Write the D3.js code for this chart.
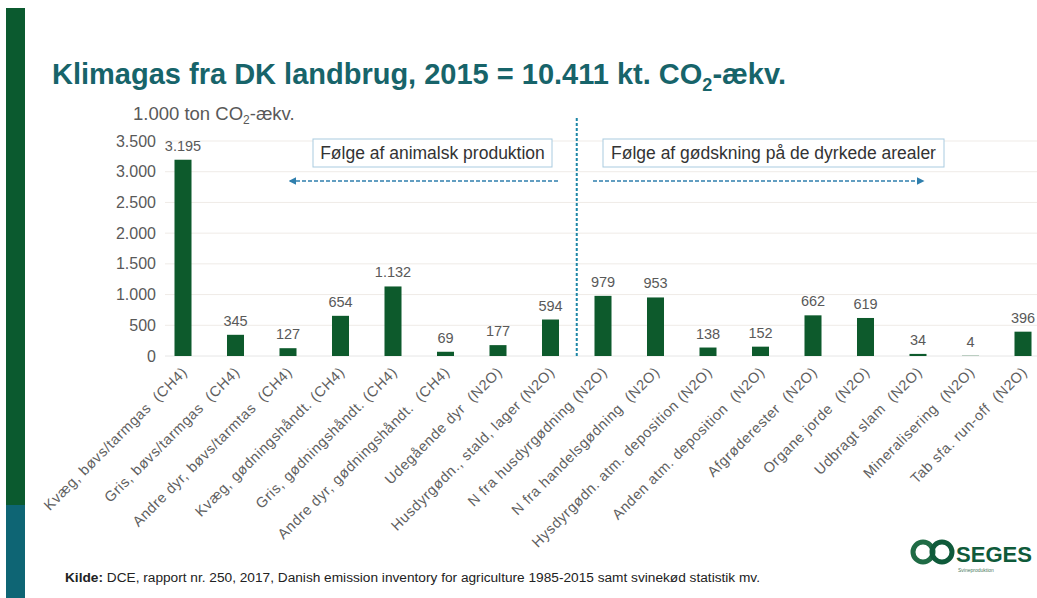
<!DOCTYPE html>
<html>
<head>
<meta charset="utf-8">
<script src="https://cdn.jsdelivr.net/npm/d3@7"></script>
<style>
  body { margin: 0; background: #fff; }
  text { font-family: "Liberation Sans", Arial, sans-serif; }
</style>
</head>
<body>
<div id="chart"></div>
<script>
// data
let categories = [
  "Kvæg, bøvs/tarmgas  (CH4)", "Gris, bøvs/tarmgas  (CH4)", "Andre dyr, bøvs/tarmtas  (CH4)",
  "Kvæg, gødningshåndt. (CH4)", "Gris, gødningshåndt. (CH4)", "Andre dyr, gødningshåndt.  (CH4)",
  "Udegående dyr  (N2O)", "Husdyrgødn., stald, lager (N2O)", "N fra husdyrgødning (N2O)",
  "N fra handelsgødning  (N2O)", "Hysdyrgødn. atm. deposition (N2O)", "Anden atm. deposition  (N2O)",
  "Afgrøderester  (N2O)", "Organe jorde  (N2O)", "Udbragt slam  (N2O)",
  "Mineralisering  (N2O)", "Tab sfa. run-off  (N2O)"
];
let values = [3195, 345, 127, 654, 1132, 69, 177, 594, 979, 953, 138, 152, 662, 619, 34, 4, 396];
let yTicks = [0, 500, 1000, 1500, 2000, 2500, 3000, 3500];
let groupLabels = ["Følge af animalsk produktion", "Følge af gødskning på de dyrkede arealer"];

let W = 1037, H = 598;
let fmt = d3.format(",d");
let dk = v => fmt(v).replace(/,/g, "."); // danish thousands separator

let svg = d3.select("#chart").append("svg")
    .attr("width", W).attr("height", H);

// left colour band
svg.append("rect").attr("x", 6).attr("y", 8).attr("width", 19).attr("height", 497).attr("fill", "#0b5a2f");
svg.append("rect").attr("x", 6).attr("y", 505).attr("width", 19).attr("height", 93).attr("fill", "#0e6574");

// title
let title = svg.append("text")
    .attr("x", 52).attr("y", 84)
    .style("font-size", "29px").style("font-weight", "bold")
    .attr("fill", "#17646a");
title.append("tspan").text("Klimagas fra DK landbrug, 2015 = 10.411 kt. CO");
title.append("tspan").text("2").style("font-size", "18px").attr("dy", 7);
title.append("tspan").text("-ækv.").attr("dy", -7);

// unit label
let unit = svg.append("text")
    .attr("x", 133).attr("y", 120)
    .style("font-size", "18.5px").attr("fill", "#595959");
unit.append("tspan").text("1.000 ton CO");
unit.append("tspan").text("2").style("font-size", "12px").attr("dy", 4);
unit.append("tspan").text("-ækv.").attr("dy", -4);

// scales
let x = d3.scaleBand()
    .domain(categories)
    .range([156.75, 1049.25])
    .paddingInner(0.676)
    .paddingOuter(0.338);

let y = d3.scaleLinear()
    .domain([0, 3500])
    .range([356, 141]);

// gridlines
svg.append("g")
    .selectAll("line")
    .data(yTicks.slice(1))
    .enter()
    .append("line")
    .attr("x1", 165).attr("x2", W)
    .attr("y1", d => y(d)).attr("y2", d => y(d))
    .attr("stroke", "#efebe7").attr("stroke-width", 1);

// y axis labels
let yAxis = svg.append("g")
    .attr("transform", "translate(156,0)")
    .call(d3.axisLeft(y).tickValues(yTicks).tickFormat(dk).tickSize(0).tickPadding(0));
yAxis.select(".domain").remove();
yAxis.selectAll("text")
    .style("font-size", "16px")
    .style("font-family", "Liberation Sans, Arial, sans-serif")
    .attr("fill", "#595959");

// baseline
svg.append("line")
    .attr("x1", 165).attr("x2", W)
    .attr("y1", y(0)).attr("y2", y(0))
    .attr("stroke", "#e6e6e6");

// bars
svg.append("g")
    .selectAll("rect")
    .data(values)
    .enter()
    .append("rect")
    .attr("x", (d, i) => x(categories[i]))
    .attr("width", x.bandwidth())
    .attr("y", d => y(d))
    .attr("height", d => y(0) - y(d))
    .attr("fill", "#0d5a2c");

// value labels
svg.append("g")
    .selectAll("text")
    .data(values)
    .enter()
    .append("text")
    .attr("x", (d, i) => x(categories[i]) + x.bandwidth() / 2)
    .attr("y", d => y(d) - 9)
    .attr("text-anchor", "middle")
    .style("font-size", "14.5px")
    .attr("fill", "#595959")
    .text(d => dk(d));

// rotated category labels
svg.append("g")
    .selectAll("text")
    .data(categories)
    .enter()
    .append("text")
    .attr("transform", d => "translate(" + (x(d) + x.bandwidth() / 2 + 5) + ",373) rotate(-45)")
    .attr("text-anchor", "end")
    .style("font-size", "14.5px")
    .style("letter-spacing", "0.6px")
    .style("white-space", "pre")
    .attr("fill", "#606060")
    .text(d => d);

// divider between the two groups
let split = (x(categories[7]) + x(categories[8]) + x.bandwidth()) / 2;
svg.append("line")
    .attr("x1", split).attr("x2", split)
    .attr("y1", 118).attr("y2", 356)
    .attr("stroke", "#1e86a6").attr("stroke-width", 2)
    .attr("stroke-dasharray", "3,2");

// group boxes
let boxes = [
  {x: 313, w: 239, label: groupLabels[0]},
  {x: 603, w: 341, label: groupLabels[1]}
];
boxes.forEach(b => {
  svg.append("rect")
      .attr("x", b.x).attr("y", 139).attr("width", b.w).attr("height", 28)
      .attr("fill", "#fff").attr("stroke", "#a9cbe0").attr("stroke-width", 1);
  svg.append("text")
      .attr("x", b.x + b.w / 2).attr("y", 159)
      .attr("text-anchor", "middle")
      .style("font-size", "17.5px").attr("fill", "#333")
      .text(b.label);
});

// dashed arrows
let defs = svg.append("defs");
defs.append("marker")
    .attr("id", "arr").attr("viewBox", "0 0 10 10")
    .attr("refX", 8).attr("refY", 5)
    .attr("markerWidth", 5).attr("markerHeight", 5)
    .attr("orient", "auto-start-reverse")
    .append("path").attr("d", "M0,0 L10,5 L0,10 z").attr("fill", "#2f7fad");

svg.append("line")
    .attr("x1", 558).attr("x2", 290).attr("y1", 181).attr("y2", 181)
    .attr("stroke", "#2f7fad").attr("stroke-width", 1.5)
    .attr("stroke-dasharray", "4,2")
    .attr("marker-end", "url(#arr)");
svg.append("line")
    .attr("x1", 593).attr("x2", 923).attr("y1", 181).attr("y2", 181)
    .attr("stroke", "#2f7fad").attr("stroke-width", 1.5)
    .attr("stroke-dasharray", "4,2")
    .attr("marker-end", "url(#arr)");

// source line, squeezed like the narrow font on the slide
let src = svg.append("text")
    .attr("x", 65).attr("y", 582)
    .style("font-size", "12.5px").attr("fill", "#222")
    .attr("textLength", 695).attr("lengthAdjust", "spacingAndGlyphs");
src.append("tspan").text("Kilde:").style("font-weight", "bold");
src.append("tspan").text(" DCE, rapport nr. 250, 2017, Danish emission inventory for agriculture 1985-2015 samt svinekød statistik mv.");

// SEGES logo
let logo = svg.append("g");
logo.append("circle").attr("cx", 923).attr("cy", 552).attr("r", 10)
    .attr("fill", "none").attr("stroke", "#1f6b45").attr("stroke-width", 5);
logo.append("circle").attr("cx", 942).attr("cy", 552).attr("r", 10)
    .attr("fill", "none").attr("stroke", "#0f5a3a").attr("stroke-width", 5);
logo.append("text").attr("x", 956).attr("y", 562)
    .style("font-size", "22px").style("font-weight", "bold")
    .attr("fill", "#0f5a3a").attr("textLength", 76).attr("lengthAdjust", "spacingAndGlyphs")
    .text("SEGES");
logo.append("text").attr("x", 958).attr("y", 572)
    .style("font-size", "5px").attr("fill", "#4a7a60")
    .text("Svineproduktion");
</script>
</body>
</html>
